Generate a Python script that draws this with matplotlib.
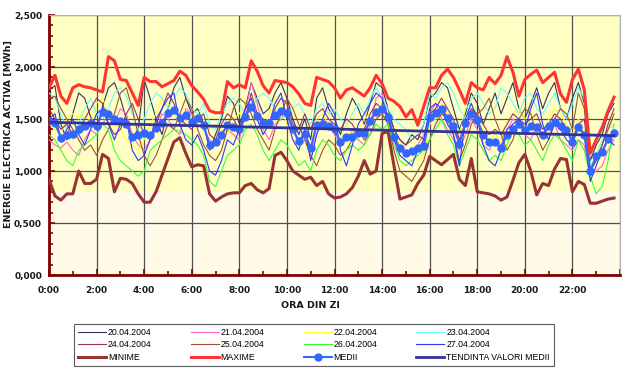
import numpy as np
import matplotlib
matplotlib.use("Agg")
import matplotlib.pyplot as plt
from matplotlib.ticker import MultipleLocator, FuncFormatter

# quarter-hour slots 0:00 .. 23:45 (hours)
ore = np.arange(96) * 0.25

zile = ["20.04.2004", "21.04.2004", "22.04.2004", "23.04.2004",
        "24.04.2004", "25.04.2004", "26.04.2004", "27.04.2004"]

# energie pe zile (mii MWh)
z20 = [1.78, 1.82, 1.45, 1.30, 1.55, 1.75, 1.70, 1.52, 1.40, 1.62, 1.80, 1.85,
       1.70, 1.50, 1.32, 1.40, 1.88, 1.70, 1.50, 1.35, 1.60, 1.80, 1.90, 1.70,
       1.55, 1.60, 1.45, 1.20, 1.35, 1.50, 1.72, 1.65, 1.45, 1.60, 1.85, 1.70,
       1.55, 1.60, 1.75, 1.85, 1.70, 1.50, 1.35, 1.50, 1.30, 1.70, 1.80, 1.60,
       1.50, 1.35, 1.55, 1.70, 1.60, 1.45, 1.65, 1.85, 1.80, 1.60, 1.40, 1.30,
       1.25, 1.35, 1.30, 1.45, 1.70, 1.75, 1.85, 1.80, 1.60, 1.40, 1.55, 1.75,
       1.65, 1.45, 1.60, 1.75, 1.55, 1.70, 1.85, 1.60, 1.50, 1.65, 1.80, 1.60,
       1.75, 1.85, 1.60, 1.50, 1.70, 1.85, 1.65, 1.10, 1.25, 1.35, 1.55, 1.65]
z21 = [1.30, 1.25, 1.22, 1.28, 1.20, 1.15, 1.30, 1.40, 1.35, 1.45, 1.55, 1.45,
       1.60, 1.55, 1.35, 1.25, 1.20, 1.30, 1.40, 1.55, 1.50, 1.40, 1.35, 1.60,
       1.55, 1.45, 1.40, 1.30, 1.25, 1.30, 1.40, 1.35, 1.30, 1.55, 1.85, 1.65,
       1.40, 1.30, 1.45, 1.50, 1.60, 1.40, 1.25, 1.30, 1.20, 1.35, 1.50, 1.45,
       1.35, 1.25, 1.30, 1.40, 1.30, 1.25, 1.45, 1.70, 1.75, 1.50, 1.30, 1.20,
       1.15, 1.20, 1.25, 1.35, 1.55, 1.65, 1.50, 1.40, 1.30, 1.20, 1.35, 1.50,
       1.40, 1.25, 1.20, 1.30, 1.25, 1.40, 1.50, 1.45, 1.35, 1.30, 1.45, 1.35,
       1.40, 1.45, 1.30, 1.25, 1.20, 1.30, 1.25, 0.95, 1.00, 1.05, 1.20, 1.30]
z22 = [1.45, 1.40, 1.35, 1.50, 1.55, 1.50, 1.60, 1.45, 1.65, 1.70, 1.55, 1.45,
       1.40, 1.30, 1.25, 1.20, 1.30, 1.45, 1.55, 1.70, 1.65, 1.55, 1.45, 1.50,
       1.45, 1.55, 1.50, 1.40, 1.45, 1.40, 1.35, 1.50, 1.55, 1.65, 1.60, 1.50,
       1.35, 1.55, 1.70, 1.60, 1.45, 1.30, 1.20, 1.35, 1.25, 1.50, 1.55, 1.45,
       1.40, 1.30, 1.45, 1.35, 1.40, 1.50, 1.55, 1.60, 1.55, 1.50, 1.35, 1.25,
       1.20, 1.15, 1.10, 1.15, 1.45, 1.50, 1.65, 1.55, 1.45, 1.35, 1.60, 1.65,
       1.55, 1.40, 1.30, 1.35, 1.30, 1.45, 1.55, 1.60, 1.50, 1.55, 1.40, 1.30,
       1.50, 1.60, 1.55, 1.45, 1.35, 1.50, 1.40, 1.05, 1.15, 1.25, 1.40, 1.50]
z23 = [1.75, 1.70, 1.55, 1.40, 1.30, 1.45, 1.60, 1.70, 1.55, 1.50, 1.60, 1.75,
       1.80, 1.72, 1.55, 1.40, 1.50, 1.65, 1.75, 1.70, 1.60, 1.70, 1.80, 1.75,
       1.60, 1.55, 1.65, 1.45, 1.40, 1.55, 1.65, 1.70, 1.65, 1.55, 1.60, 1.70,
       1.75, 1.70, 1.60, 1.50, 1.55, 1.60, 1.65, 1.55, 1.45, 1.60, 1.65, 1.55,
       1.60, 1.50, 1.45, 1.55, 1.65, 1.55, 1.70, 1.80, 1.70, 1.60, 1.50, 1.45,
       1.40, 1.30, 1.35, 1.45, 1.75, 1.70, 1.80, 1.85, 1.75, 1.60, 1.50, 1.70,
       1.75, 1.65, 1.55, 1.60, 1.80, 1.75, 1.65, 1.55, 1.70, 1.75, 1.60, 1.55,
       1.65, 1.75, 1.60, 1.50, 1.65, 1.80, 1.70, 1.05, 1.15, 1.30, 1.40, 1.45]
z24 = [1.60, 1.50, 1.40, 1.45, 1.35, 1.40, 1.50, 1.60, 1.70, 1.65, 1.45, 1.35,
       1.40, 1.55, 1.65, 1.50, 1.35, 1.30, 1.45, 1.60, 1.75, 1.65, 1.50, 1.45,
       1.40, 1.50, 1.55, 1.35, 1.30, 1.45, 1.55, 1.50, 1.40, 1.50, 1.75, 1.55,
       1.50, 1.45, 1.60, 1.70, 1.65, 1.45, 1.40, 1.55, 1.40, 1.55, 1.60, 1.50,
       1.45, 1.40, 1.50, 1.45, 1.35, 1.40, 1.55, 1.65, 1.60, 1.55, 1.40, 1.30,
       1.25, 1.30, 1.35, 1.30, 1.55, 1.60, 1.70, 1.60, 1.50, 1.30, 1.45, 1.60,
       1.55, 1.45, 1.35, 1.40, 1.35, 1.45, 1.55, 1.50, 1.45, 1.50, 1.55, 1.40,
       1.45, 1.55, 1.50, 1.40, 1.30, 1.45, 1.50, 1.00, 1.10, 1.25, 1.45, 1.60]
z25 = [1.70, 1.72, 1.60, 1.50, 1.40, 1.30, 1.20, 1.25, 1.15, 1.30, 1.40, 1.55,
       1.75, 1.80, 1.60, 1.35, 1.15, 1.05, 1.15, 1.30, 1.45, 1.40, 1.55, 1.70,
       1.60, 1.40, 1.25, 1.15, 1.10, 1.20, 1.40, 1.60, 1.70, 1.65, 1.55, 1.40,
       1.30, 1.20, 1.40, 1.55, 1.70, 1.60, 1.45, 1.30, 1.15, 1.05, 1.20, 1.30,
       1.25, 1.15, 1.20, 1.30, 1.40, 1.30, 1.35, 1.50, 1.55, 1.45, 1.20, 1.00,
       0.95, 0.90, 1.00, 1.10, 1.30, 1.45, 1.55, 1.50, 1.35, 1.10, 1.25, 1.45,
       1.55, 1.60, 1.70, 1.50, 1.35, 1.20, 1.30, 1.50, 1.60, 1.55, 1.35, 1.20,
       1.30, 1.50, 1.60, 1.55, 1.40, 1.75, 1.60, 1.00, 1.10, 1.25, 1.40, 1.55]
z26 = [1.35, 1.30, 1.20, 1.10, 1.05, 1.20, 1.25, 1.30, 1.35, 1.45, 1.40, 1.20,
       1.10, 1.05, 1.00, 0.95, 1.00, 1.20, 1.25, 1.30, 1.35, 1.40, 1.38, 1.35,
       1.30, 1.25, 1.15, 0.90, 0.85, 1.00, 1.15, 1.20, 1.25, 1.40, 1.45, 1.35,
       1.20, 1.10, 1.20, 1.30, 1.25, 1.15, 1.05, 1.10, 1.00, 1.20, 1.30, 1.25,
       1.15, 1.10, 1.20, 1.25, 1.20, 1.25, 1.35, 1.45, 1.40, 1.45, 1.25, 1.10,
       1.05, 1.10, 1.15, 1.20, 1.30, 1.40, 1.50, 1.35, 1.25, 1.05, 1.20, 1.35,
       1.30, 1.20, 1.10, 1.15, 1.10, 1.25, 1.40, 1.35, 1.25, 1.30, 1.20, 1.10,
       1.25, 1.35, 1.30, 1.20, 1.10, 1.30, 1.20, 0.95, 0.78, 0.85, 1.10, 1.45]
z27 = [1.50, 1.55, 1.30, 1.40, 1.50, 1.35, 1.25, 1.40, 1.55, 1.60, 1.45, 1.30,
       1.45, 1.50, 1.20, 1.10, 1.15, 1.30, 1.50, 1.60, 1.70, 1.75, 1.45, 1.30,
       1.25, 1.35, 1.20, 1.00, 0.96, 1.10, 1.30, 1.25, 1.40, 1.60, 1.70, 1.50,
       1.35, 1.45, 1.65, 1.75, 1.50, 1.30, 1.20, 1.40, 1.10, 1.35, 1.50, 1.65,
       1.55, 1.20, 1.05, 1.25, 1.45, 1.55, 1.65, 1.75, 1.70, 1.50, 1.30, 1.15,
       1.10, 1.05, 1.20, 1.30, 1.60, 1.65, 1.60, 1.45, 1.35, 1.05, 1.50, 1.65,
       1.50, 1.25, 1.10, 1.05, 1.20, 1.40, 1.45, 1.50, 1.40, 1.60, 1.75, 1.45,
       1.30, 1.45, 1.40, 1.30, 1.25, 1.45, 1.35, 0.90, 1.05, 1.20, 1.30, 1.25]

minime = [0.92, 0.76, 0.72, 0.78, 0.78, 1.00, 0.88, 0.88, 0.92, 1.16, 1.12, 0.80,
          0.93, 0.92, 0.88, 0.78, 0.70, 0.70, 0.80, 0.96, 1.12, 1.28, 1.32, 1.17,
          1.04, 1.06, 1.05, 0.78, 0.71, 0.75, 0.78, 0.79, 0.79, 0.86, 0.88, 0.82,
          0.79, 0.83, 1.15, 1.18, 1.10, 1.00, 0.96, 0.92, 0.94, 0.86, 0.90, 0.78,
          0.74, 0.75, 0.78, 0.84, 0.95, 1.10, 0.97, 1.00, 1.36, 1.38, 1.05, 0.73,
          0.75, 0.77, 0.88, 0.96, 1.14, 1.10, 1.06, 1.11, 1.16, 0.92, 0.86, 1.12,
          0.80, 0.79, 0.78, 0.76, 0.72, 0.75, 0.91, 1.08, 1.16, 1.00, 0.77, 0.88,
          0.86, 1.02, 1.12, 1.11, 0.80, 0.90, 0.87, 0.69, 0.69, 0.71, 0.73, 0.74]
maxime = [1.80, 1.92, 1.72, 1.65, 1.80, 1.83, 1.81, 1.80, 1.78, 1.76, 2.10, 2.06,
          1.88, 1.87, 1.75, 1.63, 1.90, 1.86, 1.86, 1.81, 1.84, 1.87, 1.96, 1.92,
          1.82, 1.76, 1.69, 1.58, 1.56, 1.56, 1.86, 1.80, 1.83, 1.80, 2.06, 1.96,
          1.82, 1.75, 1.87, 1.86, 1.85, 1.81, 1.74, 1.65, 1.63, 1.90, 1.88, 1.86,
          1.80, 1.70, 1.78, 1.80, 1.76, 1.72, 1.80, 1.92, 1.84, 1.70, 1.67, 1.62,
          1.52, 1.59, 1.44, 1.62, 1.80, 1.80, 1.92, 1.98, 1.90, 1.78, 1.65, 1.85,
          1.80, 1.78, 1.90, 1.84, 1.92, 2.10, 1.95, 1.72, 1.88, 1.93, 1.97, 1.85,
          1.90, 1.95, 1.74, 1.66, 1.88, 1.98, 1.78, 1.17, 1.30, 1.42, 1.58, 1.71]
medii = [1.48, 1.46, 1.32, 1.35, 1.36, 1.40, 1.43, 1.46, 1.43, 1.57, 1.55, 1.50,
         1.48, 1.45, 1.33, 1.35, 1.37, 1.35, 1.41, 1.46, 1.56, 1.59, 1.51, 1.54,
         1.47, 1.51, 1.44, 1.25, 1.28, 1.35, 1.44, 1.42, 1.40, 1.52, 1.62, 1.53,
         1.46, 1.46, 1.54, 1.58, 1.56, 1.40, 1.29, 1.36, 1.22, 1.44, 1.45, 1.43,
         1.40, 1.28, 1.33, 1.33, 1.37, 1.37, 1.48, 1.57, 1.60, 1.52, 1.33, 1.22,
         1.17, 1.19, 1.22, 1.24, 1.52, 1.56, 1.60, 1.51, 1.43, 1.26, 1.46, 1.55,
         1.49, 1.35, 1.28, 1.28, 1.22, 1.35, 1.40, 1.45, 1.39, 1.43, 1.42, 1.35,
         1.43, 1.47, 1.43, 1.39, 1.28, 1.42, 1.35, 1.00, 1.14, 1.18, 1.31, 1.37]

culori = ["#333366", "#ff66cc", "#ffff33", "#66ffff",
          "#993366", "#a0522d", "#33ff33", "#3333ff"]

fig = plt.figure(figsize=(6.26, 3.75), dpi=100)
ax = fig.add_axes([49 / 626, 100 / 375, 571 / 626, 260 / 375])

# fundal: banda galbena sus, crem jos
ax.axhspan(0.8, 2.5, color="#ffffc4", zorder=0)
ax.axhspan(0, 0.8, color="#fffbe8", zorder=0)

for serie, nume, c in zip([z20, z21, z22, z23, z24, z25, z26, z27], zile, culori):
    ax.plot(ore, serie, color=c, lw=0.8, label=nume, zorder=3)

ax.plot(ore, minime, color="#993333", lw=2.2, label="MINIME", zorder=4)
ax.plot(ore, maxime, color="#ff3333", lw=2.2, label="MAXIME", zorder=4)
ax.plot(ore, medii, color="#3366ff", lw=1.5, marker="o", ms=5, label="MEDII", zorder=5)

# linia de tendinta (regresie liniara)
p = np.polyfit(ore, medii, 1)
ax.plot(ore, np.polyval(p, ore), color="#333399", lw=2, label="TENDINTA VALORI MEDII", zorder=6)

ax.set_xlim(0, 24)
ax.set_ylim(0, 2.5)
ax.xaxis.set_major_locator(MultipleLocator(2))
ax.xaxis.set_minor_locator(MultipleLocator(1))
ax.yaxis.set_major_locator(MultipleLocator(0.5))
ax.yaxis.set_minor_locator(MultipleLocator(0.1))
ax.xaxis.set_major_formatter(FuncFormatter(lambda v, _: "%d:00" % v if v < 24 else ""))
ax.yaxis.set_major_formatter(FuncFormatter(lambda v, _: ("%.3f" % v).replace(".", ",")))

ax.grid(True, which="major", color="#505050", lw=0.9, zorder=1)
ax.set_axisbelow(True)

for s in ["left", "bottom"]:
    ax.spines[s].set_color("#800000")
    ax.spines[s].set_linewidth(2)
for s in ["top", "right"]:
    ax.spines[s].set_color("#b0b0b0")
    ax.spines[s].set_linewidth(0.8)

ax.tick_params(which="both", direction="in", color="#800000", width=1.2)
ax.tick_params(which="major", length=4)
ax.tick_params(which="minor", length=3)
ax.tick_params(axis="both", labelsize=6.5)
for t in ax.get_xticklabels() + ax.get_yticklabels():
    t.set_fontweight("bold")
    t.set_color("#1a1a1a")
ax.tick_params(axis="x", pad=8)
ax.tick_params(axis="y", pad=5)

fig.text(310 / 626, 1 - 305 / 375, "ORA DIN ZI", ha="center", va="center",
         fontsize=6.8, fontweight="bold", color="#1a1a1a")
fig.text(8 / 626, 1 - 228 / 375, "ENERGIE ELECTRICA ACTIVA [MWh]", rotation=90,
         ha="center", va="bottom", fontsize=6.8, fontweight="bold", color="#1a1a1a")

h, l = ax.get_legend_handles_labels()
# ordonare pe randuri (4 coloane)
ordine = [0, 4, 8, 1, 5, 9, 2, 6, 10, 3, 7, 11]
leg = fig.legend([h[i] for i in ordine], [l[i] for i in ordine], ncol=4,
                 loc="lower left", bbox_to_anchor=(70 / 626, 5 / 375, 488 / 626, 48 / 375),
                 mode="expand", frameon=True, fancybox=False,
                 edgecolor="#333333", handlelength=3.2, handletextpad=0.2,
                 borderpad=0.45, labelspacing=0.4, prop={"family": "Liberation Sans", "size": 6.3})
leg.get_frame().set_linewidth(0.8)

fig.savefig("out.png", dpi=100)
